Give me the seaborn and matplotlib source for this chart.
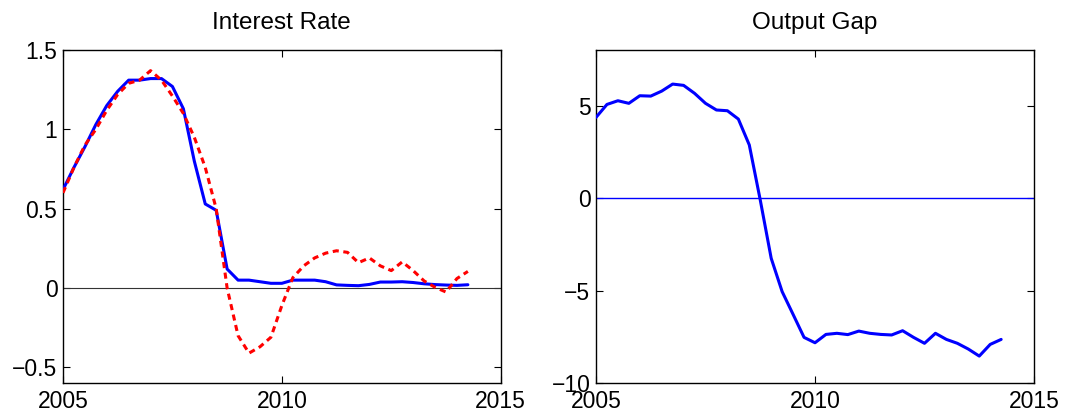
import numpy as np
import pandas as pd
import matplotlib
matplotlib.use("Agg")
import matplotlib.pyplot as plt
import seaborn as sns

# ---- data (quarterly, 2005Q1 .. 2014Q2) ----
dates = [2005 + 0.25 * i for i in range(38)]

rate_actual = [0.62, 0.76, 0.89, 1.03, 1.15, 1.24, 1.31, 1.31, 1.32, 1.32,
               1.27, 1.13, 0.80, 0.53, 0.49, 0.12, 0.05, 0.05, 0.04, 0.03,
               0.03, 0.05, 0.05, 0.05, 0.04, 0.02, 0.017, 0.015, 0.023, 0.038,
               0.038, 0.04, 0.035, 0.027, 0.022, 0.019, 0.017, 0.021]

rate_rule = [0.60, 0.76, 0.90, 1.00, 1.12, 1.22, 1.29, 1.31, 1.37, 1.31,
             1.21, 1.10, 0.95, 0.76, 0.50, 0.0, -0.30, -0.41, -0.37, -0.31,
             -0.11, 0.065, 0.14, 0.19, 0.22, 0.235, 0.225, 0.16, 0.19, 0.14,
             0.11, 0.165, 0.11, 0.045, 0.005, -0.025, 0.06, 0.105]

output_gap = [4.36, 5.06, 5.26, 5.12, 5.53, 5.51, 5.78, 6.16, 6.09, 5.66,
              5.12, 4.76, 4.72, 4.27, 2.87, -0.10, -3.25, -5.05, -6.28, -7.52,
              -7.81, -7.36, -7.30, -7.37, -7.18, -7.30, -7.36, -7.39, -7.16, -7.52,
              -7.84, -7.30, -7.63, -7.84, -8.15, -8.53, -7.90, -7.63]

titles = ["Interest Rate", "Output Gap"]
x_ticks = [2005, 2010, 2015]
left_yticks = [-0.5, 0, 0.5, 1, 1.5]
left_yticklabels = ["\u22120.5", "0", "0.5", "1", "1.5"]
right_yticks = [-10, -5, 0, 5]
right_yticklabels = ["\u221210", "\u22125", "0", "5"]

df_rate = pd.DataFrame({"date": dates, "actual": rate_actual, "rule": rate_rule})
df_gap = pd.DataFrame({"date": dates, "gap": output_gap})

sns.set_style("ticks")
plt.rcParams["font.family"] = ["Liberation Sans", "DejaVu Sans"]
plt.rcParams["axes.unicode_minus"] = True

fig = plt.figure(figsize=(10.65, 4.16), dpi=100)
ax1 = fig.add_axes([63 / 1065, 1 - 383.3 / 416, 437.7 / 1065, 333.3 / 416])
ax2 = fig.add_axes([596 / 1065, 1 - 383.3 / 416, 438 / 1065, 333.3 / 416])

# left panel
ax1.axhline(0, color="#333333", lw=0.8, zorder=1)
sns.lineplot(data=df_rate, x="date", y="actual", ax=ax1, color="#0000ff",
             lw=2.2, zorder=3)
sns.lineplot(data=df_rate, x="date", y="rule", ax=ax1, color="#ff0000",
             lw=2.2, zorder=4)
ax1.lines[-1].set_dashes((2.0, 1.5))
ax1.set_xlim(2005, 2015)
ax1.set_ylim(-0.6, 1.5)
ax1.set_yticks(left_yticks)
ax1.set_yticklabels(left_yticklabels)

# right panel
ax2.axhline(0, color="#0000ff", lw=1.0, zorder=1)
sns.lineplot(data=df_gap, x="date", y="gap", ax=ax2, color="#0000ff",
             lw=2.2, zorder=3)
ax2.set_xlim(2005, 2015)
ax2.set_ylim(-10, 8)
ax2.set_yticks(right_yticks)
ax2.set_yticklabels(right_yticklabels)

for ax, t in zip([ax1, ax2], titles):
    ax.set_xticks(x_ticks)
    ax.set_xticklabels([str(v) for v in x_ticks])
    ax.set_xlabel("")
    ax.set_ylabel("")
    ax.set_title(t, fontsize=17.5, pad=15, color="black")
    ax.tick_params(direction="in", length=5, width=0.8, top=True, right=True,
                   labelsize=16.5, colors="black")
    ax.tick_params(axis="y", pad=4)
    ax.tick_params(axis="x", pad=4.5)
    for s in ax.spines.values():
        s.set_visible(True)
        s.set_color("black")
        s.set_linewidth(1.0)

fig.savefig("out.png", dpi=100)
